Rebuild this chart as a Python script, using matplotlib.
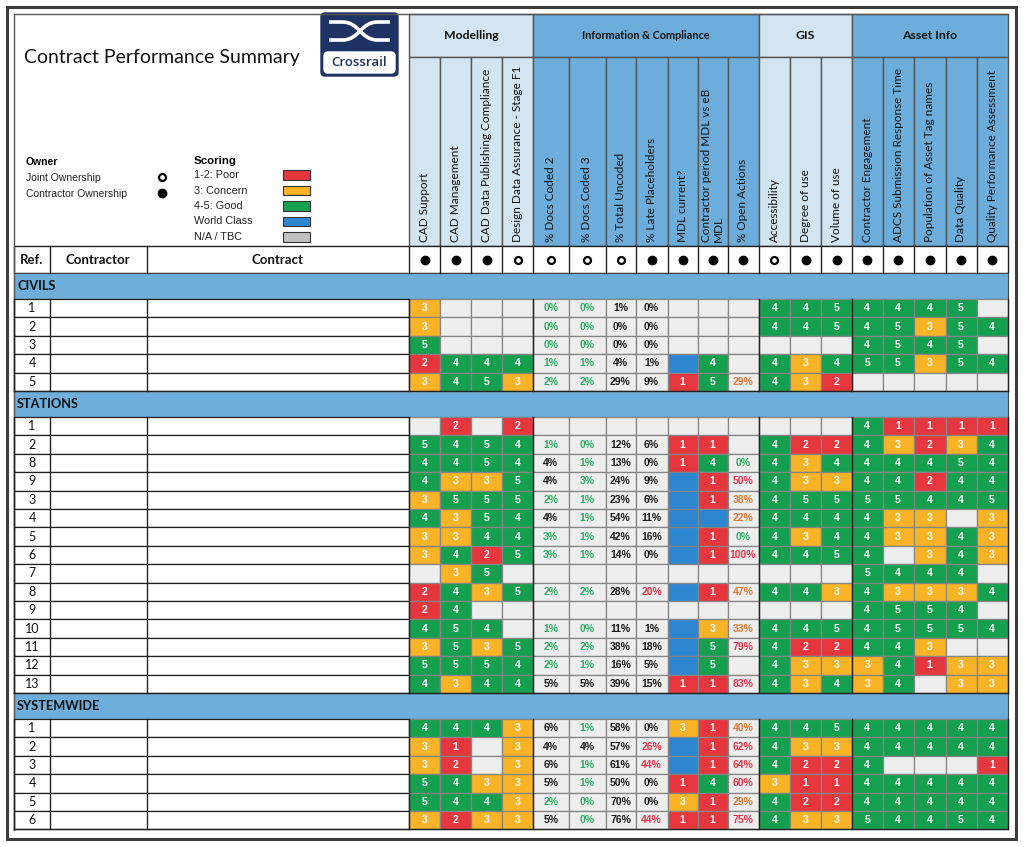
import matplotlib
matplotlib.use("Agg")
import matplotlib.pyplot as plt
from matplotlib.patches import Rectangle, FancyBboxPatch, PathPatch
from matplotlib.path import Path

# ---- data ----
groups = ["Modelling", "Information & Compliance", "GIS", "Asset Info"]
group_sizes = [4, 7, 3, 5]
columns = [
    "CAD Support", "CAD Management", "CAD Data Publishing Compliance",
    "Design Data Assurance - Stage F1",
    "% Docs Coded 2", "% Docs Coded 3", "% Total Uncoded", "% Late Placeholders",
    "MDL current?", "Contractor period MDL vs eB\nMDL", "% Open Actions",
    "Accessibility", "Degree of use", "Volume of use",
    "Contractor Engagement", "ADCS Submission Response Time",
    "Population of Asset Tag names", "Data Quality", "Quality Performance Assessment",
]
# C = contractor ownership (filled), J = joint ownership (open)
owner = ["C", "C", "C", "J", "J", "J", "J", "C", "C", "C", "C",
         "J", "C", "C", "C", "C", "C", "C", "C"]

sections = ["CIVILS", "STATIONS", "SYSTEMWIDE"]
refs = [
    [1, 2, 3, 4, 5],
    [1, 2, 8, 9, 3, 4, 5, 6, 7, 8, 9, 10, 11, 12, 13],
    [1, 2, 3, 4, 5, 6],
]
# scores: 1-5, "B" = world class, "" = N/A, "x%" = percentage
civils = [
    [3, "", "", "", "0%", "0%", "1%", "0%", "", "", "", 4, 4, 5, 4, 4, 4, 5, ""],
    [3, "", "", "", "0%", "0%", "0%", "0%", "", "", "", 4, 4, 5, 4, 5, 3, 5, 4],
    [5, "", "", "", "0%", "0%", "0%", "0%", "", "", "", "", "", "", 4, 5, 4, 5, ""],
    [2, 4, 4, 4, "1%", "1%", "4%", "1%", "B", 4, "", 4, 3, 4, 5, 5, 3, 5, 4],
    [3, 4, 5, 3, "2%", "2%", "29%", "9%", 1, 5, "29%", 4, 3, 2, "", "", "", "", ""],
]
stations = [
    ["", 2, "", 2, "", "", "", "", "", "", "", "", "", "", 4, 1, 1, 1, 1],
    [5, 4, 5, 4, "1%", "0%", "12%", "6%", 1, 1, "", 4, 2, 2, 4, 3, 2, 3, 4],
    [4, 4, 5, 4, "4%", "1%", "13%", "0%", 1, 4, "0%", 4, 3, 4, 4, 4, 4, 5, 4],
    [4, 3, 3, 5, "4%", "3%", "24%", "9%", "B", 1, "50%", 4, 3, 3, 4, 4, 2, 4, 4],
    [3, 5, 5, 5, "2%", "1%", "23%", "6%", "B", 1, "38%", 4, 5, 5, 5, 5, 4, 4, 5],
    [4, 3, 5, 4, "4%", "1%", "54%", "11%", "B", "B", "22%", 4, 4, 4, 4, 3, 3, "", 3],
    [3, 3, 4, 4, "3%", "1%", "42%", "16%", "B", 1, "0%", 4, 3, 4, 4, 3, 3, 4, 3],
    [3, 4, 2, 5, "3%", "1%", "14%", "0%", "B", 1, "100%", 4, 4, 5, 4, "", 3, 4, 3],
    ["", 3, 5, "", "", "", "", "", "", "", "", "", "", "", 5, 4, 4, 4, ""],
    [2, 4, 3, 5, "2%", "2%", "28%", "20%", "B", 1, "47%", 4, 4, 3, 4, 3, 3, 3, 4],
    [2, 4, "", "", "", "", "", "", "", "", "", "", "", "", 4, 5, 5, 4, ""],
    [4, 5, 4, "", "1%", "0%", "11%", "1%", "B", 3, "33%", 4, 4, 5, 4, 5, 5, 5, 4],
    [3, 5, 3, 5, "2%", "2%", "38%", "18%", "B", 5, "79%", 4, 2, 2, 4, 4, 3, "", ""],
    [5, 5, 5, 4, "2%", "1%", "16%", "5%", "B", 5, "", 4, 3, 3, 3, 4, 1, 3, 3],
    [4, 3, 4, 4, "5%", "5%", "39%", "15%", 1, 1, "83%", 4, 3, 4, 3, 4, "", 3, 3],
]
systemwide = [
    [4, 4, 4, 3, "6%", "1%", "58%", "0%", 3, 1, "40%", 4, 4, 5, 4, 4, 4, 4, 4],
    [3, 1, "", 3, "4%", "4%", "57%", "26%", "B", 1, "62%", 4, 3, 3, 4, 4, 4, 4, 4],
    [3, 2, "", 3, "6%", "1%", "61%", "44%", "B", 1, "64%", 4, 2, 2, 4, "", "", "", 1],
    [5, 4, 3, 3, "5%", "1%", "50%", "0%", 1, 4, "60%", 3, 1, 1, 4, 4, 4, 4, 4],
    [5, 4, 4, 3, "2%", "0%", "70%", "0%", 3, 1, "29%", 4, 2, 2, 4, 4, 4, 4, 4],
    [3, 2, 3, 3, "5%", "0%", "76%", "44%", 1, 1, "75%", 4, 3, 3, 5, 4, 4, 5, 4],
]
section_rows = [civils, stations, systemwide]

legend_labels = ["1-2: Poor", "3: Concern", "4-5: Good", "World Class", "N/A / TBC"]

# ---- style ----
RED, AMBER, GREEN, BLUE, NA = "#E6373F", "#F8B327", "#14A04E", "#2E86D1", "#EEEEEE"
TXT_GREEN, TXT_ORANGE, TXT_RED = "#2BAE68", "#E07A3A", "#E8374C"
LIGHT_HDR, DARK_HDR, BAND = "#D2E5F1", "#6CADDB", "#6DAEDB"
NAVY = "#1F3264"
HFONT = "Lato"
CFONT = "Liberation Sans"

col_w = [31, 31, 31, 31, 35.5, 37, 30, 32, 30, 30, 31,
         31.5, 31, 31, 30.5, 31, 32, 31, 31]
x0 = 409
xb = [x0]
for w in col_w:
    xb.append(xb[-1] + w)
x_end = xb[-1]
row_h, band_h = 18.4, 26
y_top, y_grp, y_own, y_data = 14, 57.5, 246.5, 273


def score_colour(v):
    if v == "":
        return NA
    if v == "B":
        return BLUE
    if isinstance(v, str):
        return NA
    return RED if v <= 2 else (AMBER if v == 3 else GREEN)


def pct_colour(col, txt):
    v = int(txt.rstrip("%"))
    if col in (4, 5):
        return TXT_GREEN if v <= 3 else "#1a1a1a"
    if col == 7:
        return TXT_RED if v >= 20 else "#1a1a1a"
    if col == 10:
        if v == 0:
            return TXT_GREEN
        return TXT_ORANGE if v < 50 else TXT_RED
    return "#1a1a1a"


fig = plt.figure(figsize=(10.24, 8.47), dpi=100)
ax = fig.add_axes([0, 0, 1, 1])
ax.set_xlim(0, 1024)
ax.set_ylim(847, 0)
ax.axis("off")

# outer frame
ax.add_patch(Rectangle((7, 7), 1009, 832, fill=False, ec="#3c3c3c", lw=2.2))
ax.plot([14, x_end], [y_top, y_top], color="#555555", lw=1)
ax.plot([14, 14], [y_top, 830], color="#555555", lw=1)

# title + logo
ax.text(24, 57, "Contract Performance Summary", fontsize=14, family=HFONT,
        va="center", ha="left", color="#111111")
ax.add_patch(FancyBboxPatch((321, 13), 77, 63, boxstyle="round,pad=0,rounding_size=4",
                            fc=NAVY, ec=NAVY))
for ya, yb in [(22, 40), (40, 22)]:
    verts = [(329, ya), (342, ya), (360, ya), (360, yb), (378, yb), (390, yb)]
    codes = [Path.MOVETO, Path.LINETO, Path.CURVE4, Path.CURVE4, Path.CURVE4, Path.LINETO]
    ax.add_patch(PathPatch(Path(verts, codes), fill=False, ec="white", lw=2.6))
ax.add_patch(FancyBboxPatch((324, 52), 71, 21, boxstyle="round,pad=0,rounding_size=4",
                            fc="white", ec="white"))
ax.text(359.5, 63, "Crossrail", fontsize=9.5, family="Open Sans", color=NAVY,
        ha="center", va="center", fontweight="semibold")

# legend: owner
ax.text(26, 162, "Owner", fontsize=7.5, family=CFONT, fontweight="bold", va="center")
ax.text(26, 178, "Joint Ownership", fontsize=7.5, family=CFONT, va="center", color="#222")
ax.text(26, 194, "Contractor Ownership", fontsize=7.5, family=CFONT, va="center", color="#222")
ax.plot([162], [177], "o", ms=5, mfc="white", mec="black", mew=1.6)
ax.plot([162], [193], "o", ms=6, mfc="black", mec="black")

# legend: scoring
ax.text(194, 161, "Scoring", fontsize=8.2, family=CFONT, fontweight="bold", va="center")
legend_cols = [RED, AMBER, GREEN, BLUE, "#C0C0C0"]
for i, (lab, c) in enumerate(zip(legend_labels, legend_cols)):
    yy = 175 + i * 15.5
    ax.text(194, yy, lab, fontsize=7.8, family=CFONT, va="center", color="#222")
    ax.add_patch(Rectangle((283, yy - 4.5), 27, 9.5, fc=c, ec="#333333", lw=0.8))

# group headers
ci = 0
for g, (name, n) in enumerate(zip(groups, group_sizes)):
    fc = LIGHT_HDR if g % 2 == 0 else DARK_HDR
    xa, xz = xb[ci], xb[ci + n]
    ax.add_patch(Rectangle((xa, y_top), xz - xa, y_grp - y_top, fc=fc, ec="#555555", lw=1))
    ax.text((xa + xz) / 2, (y_top + y_grp) / 2, name, fontsize=7.8 if g == 1 else 8.8,
            family=HFONT, fontweight="bold", ha="center", va="center", color="#111")
    for k in range(ci, ci + n):
        ax.add_patch(Rectangle((xb[k], y_grp), col_w[k], y_own - y_grp, fc=fc,
                               ec="#555555", lw=1))
    ci += n

# column headers
for k, name in enumerate(columns):
    xc = (xb[k] + xb[k + 1]) / 2
    ax.text(xc, y_own - 5, name, rotation=90, fontsize=8.5, family=HFONT,
            ha="center", va="bottom", multialignment="left", color="#111",
            linespacing=1.1)

# owner row + left header row
ax.add_patch(Rectangle((14, y_own), x_end - 14, y_data - y_own, fc="white",
                       ec="#222222", lw=1))
for xv in [50, 147, x0] + xb[1:-1]:
    ax.plot([xv, xv], [y_own, y_data], color="#222222", lw=1)
ym = (y_own + y_data) / 2
for xc, lab in [(32, "Ref."), (98, "Contractor"), (278, "Contract")]:
    ax.text(xc, ym, lab, fontsize=9.5, family=HFONT, fontweight="bold",
            ha="center", va="center", color="#111")
for k, o in enumerate(owner):
    xc = (xb[k] + xb[k + 1]) / 2
    if o == "C":
        ax.plot([xc], [ym], "o", ms=6, mfc="black", mec="black")
    else:
        ax.plot([xc], [ym], "o", ms=5, mfc="white", mec="black", mew=1.6)

# sections
y = y_data
for name, rlist, rows in zip(sections, refs, section_rows):
    ax.add_patch(Rectangle((14, y), x_end - 14, band_h, fc=BAND, ec="#444444", lw=0.8))
    ax.text(17, y + band_h / 2, name, fontsize=9.2, family=HFONT, fontweight="bold",
            ha="left", va="center", color="#111")
    y += band_h
    y_sec = y
    for ref, row in zip(rlist, rows):
        ax.add_patch(Rectangle((14, y), x0 - 14, row_h, fc="white", ec="#222222", lw=0.9))
        ax.text(32, y + row_h / 2, str(ref), fontsize=9, family=HFONT,
                ha="center", va="center", color="#111")
        for k, v in enumerate(row):
            ax.add_patch(Rectangle((xb[k], y), col_w[k], row_h, fc=score_colour(v),
                                   ec="#858585", lw=0.9))
            xc = (xb[k] + xb[k + 1]) / 2
            if isinstance(v, int):
                ax.text(xc, y + row_h / 2, str(v), fontsize=7.5, family=CFONT,
                        fontweight="bold", color="white", ha="center", va="center")
            elif v not in ("", "B"):
                ax.text(xc, y + row_h / 2, v, fontsize=7.5, family=CFONT,
                        fontweight="bold", color=pct_colour(k, v),
                        ha="center", va="center")
        y += row_h
    for xv in [14, 50, 147, x0, xb[4], xb[11], xb[14], x_end]:
        ax.plot([xv, xv], [y_sec, y], color="#222222", lw=1)
    ax.plot([14, x_end], [y, y], color="#222222", lw=1)

fig.savefig("out.png", dpi=100)
